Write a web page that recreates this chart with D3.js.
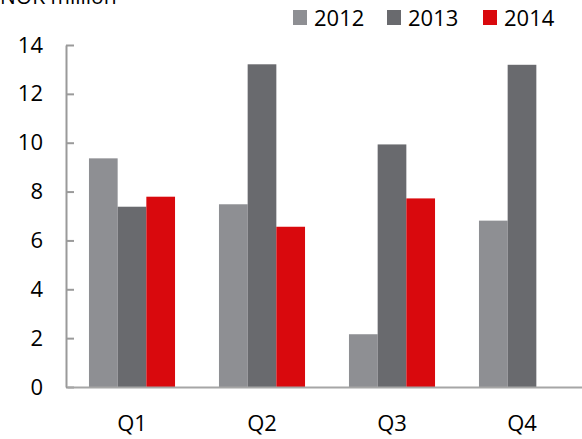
<!DOCTYPE html>
<html>
<head>
<meta charset="utf-8">
<script src="https://cdn.jsdelivr.net/npm/d3@7"></script>
<style>
  body { margin: 0; background: #fff; }
  svg { display: block; font-family: "Open Sans", sans-serif; }
</style>
</head>
<body>
<div id="chart"></div>
<script>
const quarters = ['Q1', 'Q2', 'Q3', 'Q4'];
const years = ['2012', '2013', '2014'];
const values2012 = [9.36, 7.48, 2.16, 6.81];
const values2013 = [7.38, 13.21, 9.93, 13.19];
const values2014 = [7.79, 6.56, 7.72, null];
const yTicks = [0, 2, 4, 6, 8, 10, 12, 14];
const colors = ['#8e8f93', '#696a6e', '#d9090d'];

const series = [values2012, values2013, values2014];

const width = 582;
const height = 439;

const svg = d3.select('#chart')
  .append('svg')
  .attr('width', width)
  .attr('height', height);

const xScale = d3.scaleBand()
  .domain(quarters)
  .range([67, 587])
  .paddingInner(0.338)
  .paddingOuter(0.169);

const xInner = d3.scaleBand()
  .domain(years)
  .range([0, xScale.bandwidth()]);

const yScale = d3.scaleLinear().domain([0, 14]).range([387, 45]);

// bars
const groups = svg.append('g')
  .selectAll('g')
  .data(years)
  .join('g')
  .attr('fill', (d, i) => colors[i]);

groups.selectAll('rect')
  .data((year, i) => quarters.map((q, j) => ({ q, year, v: series[i][j] })).filter(d => d.v != null))
  .join('rect')
  .attr('x', d => xScale(d.q) + xInner(d.year))
  .attr('y', d => yScale(d.v))
  .attr('width', xInner.bandwidth())
  .attr('height', d => yScale(0) - yScale(d.v));

// y axis
const yAxis = svg.append('g')
  .attr('transform', 'translate(66,0)')
  .call(d3.axisLeft(yScale).tickValues(yTicks).tickSize(-8).tickPadding(23).tickSizeOuter(0));
yAxis.select('.domain').attr('stroke', '#9a9a9a').attr('stroke-width', 2);
yAxis.selectAll('.tick line').attr('stroke', '#9a9a9a').attr('stroke-width', 2);
yAxis.selectAll('.tick text')
  .attr('font-size', 22)
  .attr('font-family', '"Open Sans", sans-serif')
  .attr('fill', '#000');

// x axis
const xAxis = svg.append('g')
  .attr('transform', 'translate(0,387)')
  .call(d3.axisBottom(xScale).tickSize(0).tickPadding(28).tickSizeOuter(0));
xAxis.select('.domain').attr('stroke', '#a6a6a6').attr('stroke-width', 2);
xAxis.selectAll('.tick text')
  .attr('font-size', 22)
  .attr('font-family', '"Open Sans", sans-serif')
  .attr('fill', '#000');

// unit label
svg.append('text')
  .attr('x', 0)
  .attr('y', 4)
  .attr('font-size', 21)
  .text('NOK million');

// legend
const legendX = [293, 387, 483];
const legend = svg.append('g')
  .selectAll('g')
  .data(years)
  .join('g')
  .attr('transform', (d, i) => `translate(${legendX[i]},0)`);
legend.append('rect')
  .attr('x', 0)
  .attr('y', 10)
  .attr('width', 14)
  .attr('height', 15)
  .attr('fill', (d, i) => colors[i]);
legend.append('text')
  .attr('x', 21)
  .attr('y', 26)
  .attr('font-size', 22)
  .text(d => d);
</script>
</body>
</html>
